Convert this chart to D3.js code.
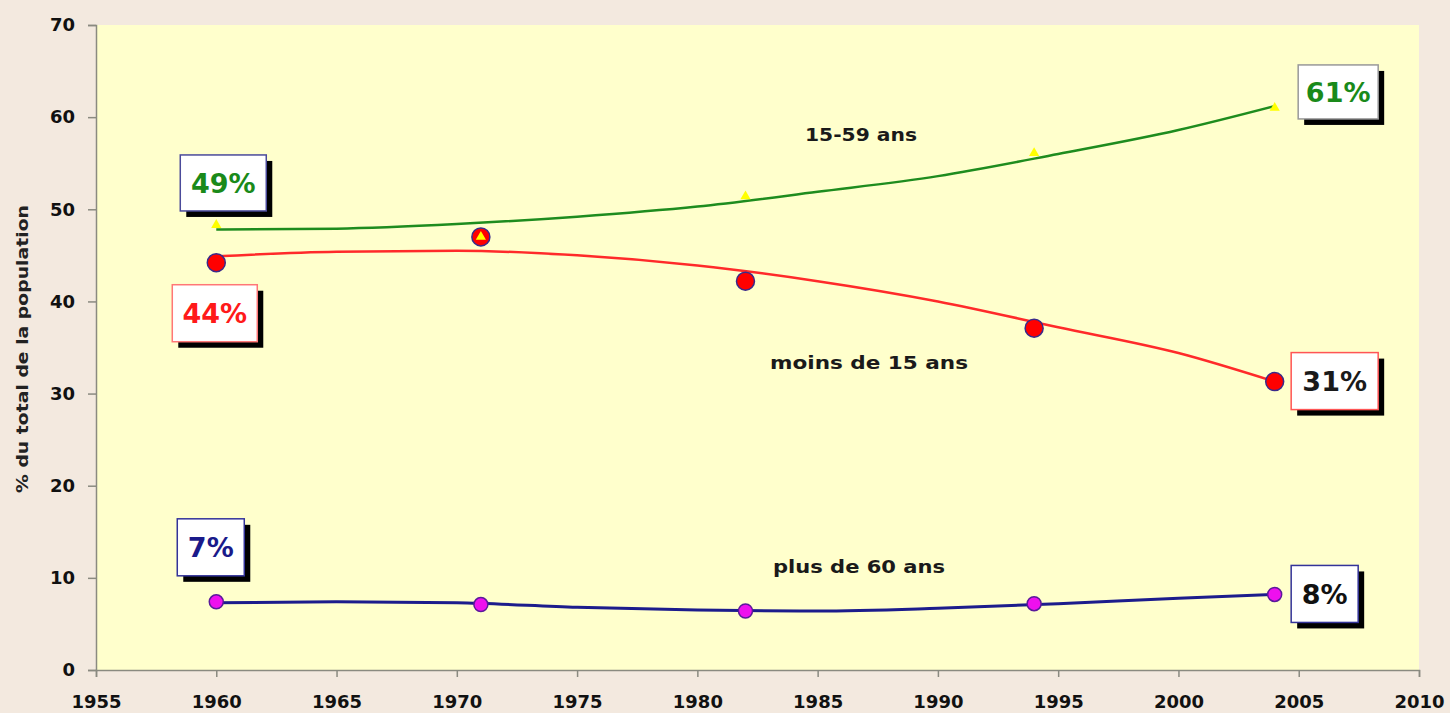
<!DOCTYPE html>
<html><head><meta charset="utf-8">
<script src="https://cdn.jsdelivr.net/npm/d3@7"></script>
<style>body{margin:0;background:#f3e9df;}svg{display:block;}</style>
</head><body><svg id="c" width="1450" height="713"></svg>
<script>
const years = [1960, 1971, 1982, 1994, 2004];
const adults = [48.3, 47.0, 51.4, 56.1, 61.0];      // 15-59 ans
const young = [44.2, 47.0, 42.2, 37.1, 31.3];       // moins de 15 ans
const old = [7.4, 7.1, 6.4, 7.2, 8.2];              // plus de 60 ans
const trendYears = [1960, 1965, 1970, 1975, 1980, 1985, 1990, 1995, 2000, 2004];
const adultsTrend = [47.8, 47.9, 48.4, 49.2, 50.3, 51.9, 53.6, 56.0, 58.6, 61.2];
const youngTrend = [44.9, 45.4, 45.5, 45.0, 43.9, 42.2, 40.0, 37.2, 34.4, 31.3];
const oldTrend = [7.3, 7.4, 7.3, 6.8, 6.5, 6.4, 6.7, 7.2, 7.8, 8.2];
const xTicks = [1955, 1960, 1965, 1970, 1975, 1980, 1985, 1990, 1995, 2000, 2005, 2010];
const yTicks = [0, 10, 20, 30, 40, 50, 60, 70];
const seriesNames = ["15-59 ans", "moins de 15 ans", "plus de 60 ans"];
const pctLabels = ["49%", "61%", "44%", "31%", "7%", "8%"];

const svg = d3.select("#c");
const x = d3.scaleLinear().domain([1955, 2010]).range([96, 1419]);
const y = d3.scaleLinear().domain([0, 70]).range([670, 25]);

svg.append("rect").attr("width", 1450).attr("height", 713).attr("fill", "#f3e9df");
svg.append("rect").attr("x", x(1955)).attr("y", y(70)).attr("width", x(2010) - x(1955)).attr("height", y(0) - y(70)).attr("fill", "#ffffcc");

const font = "DejaVu Sans, Verdana, sans-serif";
const ya = svg.append("g").attr("transform", `translate(${x(1955)},0)`)
  .call(d3.axisLeft(y).tickValues(yTicks).tickSize(8).tickPadding(13));
const xa = svg.append("g").attr("transform", `translate(0,${y(0)})`)
  .call(d3.axisBottom(x).tickValues(xTicks).tickFormat(d3.format("d")).tickSize(7).tickPadding(18));
[ya, xa].forEach(a => {
  a.selectAll("path,line").attr("stroke", "#8a8a80").attr("stroke-width", 1.5);
  a.selectAll("text").attr("font-family", font).attr("font-weight", "bold").attr("font-size", 18).attr("fill", "#111");
});

svg.append("text").attr("transform", `translate(28,349) rotate(-90)`).attr("text-anchor", "middle")
  .attr("font-family", font).attr("font-weight", "bold").attr("font-size", 15).attr("fill", "#222")
  .attr("textLength", 288).attr("lengthAdjust", "spacingAndGlyphs")
  .text("% du total de la population");

const line = d3.line().x(d => x(d[0])).y(d => y(d[1])).curve(d3.curveMonotoneX);
function trend(vals, color, w) {
  svg.append("path").datum(trendYears.map((t, i) => [t, vals[i]])).attr("d", line)
    .attr("fill", "none").attr("stroke", color).attr("stroke-width", w);
}
trend(oldTrend, "#1c1c8c", 3);
trend(youngTrend, "#ff2a2a", 2.5);
trend(adultsTrend, "#1e8c1e", 2.5);

svg.append("g").selectAll("circle").data(years).join("circle")
  .attr("cx", d => x(d)).attr("cy", (d, i) => y(old[i])).attr("r", 7)
  .attr("fill", "#ee10ee").attr("stroke", "#5a1a9a").attr("stroke-width", 1.5);
svg.append("g").selectAll("circle").data(years).join("circle")
  .attr("cx", d => x(d)).attr("cy", (d, i) => y(young[i])).attr("r", 9)
  .attr("fill", "#ff0000").attr("stroke", "#3a2a8a").attr("stroke-width", 1.5);
svg.append("g").selectAll("path").data(years).join("path")
  .attr("transform", (d, i) => `translate(${x(d)},${y(adults[i])})`)
  .attr("d", d3.symbol(d3.symbolTriangle, 45)).attr("fill", "#ffff00");

const labelStyle = (t) => t.attr("font-family", font).attr("font-weight", "bold").attr("font-size", 17)
  .attr("fill", "#1a1a1a").attr("text-anchor", "middle").attr("lengthAdjust", "spacingAndGlyphs");
svg.append("text").attr("x", 861).attr("y", 141).attr("textLength", 112).call(labelStyle).text(seriesNames[0]);
svg.append("text").attr("x", 869).attr("y", 369).attr("textLength", 198).call(labelStyle).text(seriesNames[1]);
svg.append("text").attr("x", 859).attr("y", 573).attr("textLength", 172).call(labelStyle).text(seriesNames[2]);

const boxes = [
  {t: pctLabels[0], yr: 1960, v: 48.3, dx: -36, dy: -70, w: 86, h: 56, border: "#4a4a9a", color: "#1a8a1a"},
  {t: pctLabels[1], yr: 2004, v: 61.0, dx: 23.5, dy: -43, w: 80, h: 54, border: "#999999", color: "#1a8a1a"},
  {t: pctLabels[2], yr: 1960, v: 44.2, dx: -44, dy: 22, w: 85, h: 57, border: "#ff7777", color: "#ff1a1a"},
  {t: pctLabels[3], yr: 2004, v: 31.3, dx: 16.5, dy: -29, w: 87, h: 57, border: "#ff5555", color: "#1a1a1a"},
  {t: pctLabels[4], yr: 1960, v: 7.4, dx: -39, dy: -83, w: 67, h: 57, border: "#333399", color: "#1a1a8a"},
  {t: pctLabels[5], yr: 2004, v: 8.2, dx: 16.5, dy: -29, w: 67, h: 57, border: "#333399", color: "#111111"}
];
boxes.forEach(b => {
  const bx = x(b.yr) + b.dx, by = y(b.v) + b.dy;
  svg.append("rect").attr("x", bx + 6).attr("y", by + 6).attr("width", b.w).attr("height", b.h).attr("fill", "#000");
  svg.append("rect").attr("x", bx).attr("y", by).attr("width", b.w).attr("height", b.h).attr("fill", "#fff")
    .attr("stroke", b.border).attr("stroke-width", 1.5);
  svg.append("text").attr("x", bx + b.w / 2).attr("y", by + b.h / 2 + 10).attr("text-anchor", "middle")
    .attr("font-family", font).attr("font-weight", "bold").attr("font-size", 27).attr("fill", b.color).text(b.t);
});
</script></body></html>
